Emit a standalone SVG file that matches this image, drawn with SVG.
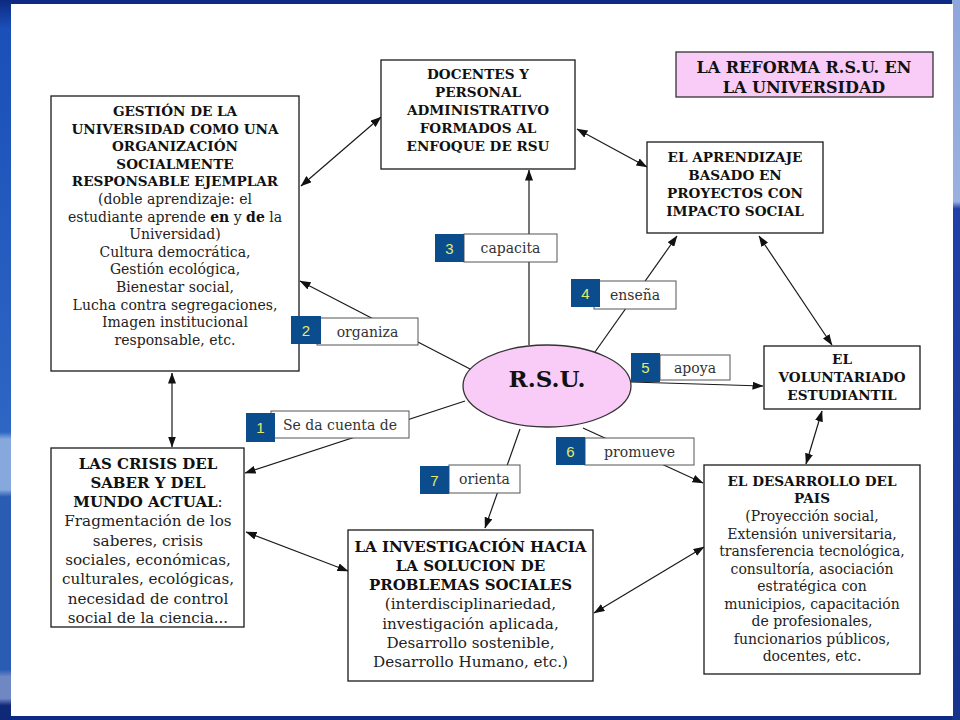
<svg xmlns="http://www.w3.org/2000/svg" width="960" height="720" viewBox="0 0 960 720">
<defs>
<linearGradient id="lg" x1="0" y1="0" x2="0" y2="1">
<stop offset="0" stop-color="#0d2a80"/>
<stop offset="0.04" stop-color="#1a50b8"/>
<stop offset="0.6" stop-color="#2e66c4"/>
<stop offset="0.61" stop-color="#86a8dc"/>
<stop offset="0.68" stop-color="#86a8dc"/>
<stop offset="0.69" stop-color="#2a5cb4"/>
<stop offset="0.93" stop-color="#2a5cb4"/>
<stop offset="0.94" stop-color="#6f88c4"/>
<stop offset="0.97" stop-color="#6f88c4"/>
<stop offset="0.98" stop-color="#102878"/>
</linearGradient>
<linearGradient id="rg" x1="0" y1="0" x2="0" y2="1">
<stop offset="0" stop-color="#8ea6dc"/>
<stop offset="0.28" stop-color="#9ab0e0"/>
<stop offset="0.29" stop-color="#1f40a8"/>
<stop offset="1" stop-color="#16348c"/>
</linearGradient>
<marker id="ah" viewBox="0 0 11 8" refX="10.5" refY="4" markerWidth="11" markerHeight="8" markerUnits="userSpaceOnUse" orient="auto-start-reverse">
<path d="M0,0 L11,4 L0,8 z" fill="#111"/>
</marker>
<style>
.box{fill:#fff;stroke:#1a1a1a;stroke-width:1.3}
.pink{fill:#f9ccf7;stroke:#333;stroke-width:1.3}
.h{font-family:"DejaVu Serif",serif;font-weight:bold;font-size:13.6px;fill:#111;text-anchor:middle}
.t{font-family:"DejaVu Serif",serif;font-size:14px;fill:#222;text-anchor:middle}
.h15{font-family:"DejaVu Serif",serif;font-weight:bold;font-size:15px;fill:#111;text-anchor:middle}
.t15{font-family:"DejaVu Serif",serif;font-size:15.2px;fill:#222;text-anchor:middle}
.c{fill:none;stroke:#1a1a1a;stroke-width:1.2}
.a{marker-end:url(#ah)}
.aa{marker-end:url(#ah);marker-start:url(#ah)}
.lb{fill:#fff;stroke:#555;stroke-width:1}
.nb{fill:#0b4d8c}
.num{font-family:"Liberation Sans",Arial,sans-serif;font-size:15px;fill:#e2ea70;text-anchor:middle}
.lt{font-family:"DejaVu Serif",serif;font-size:14px;fill:#333;text-anchor:middle}
</style>
</defs>
<rect x="0" y="0" width="960" height="720" fill="#0c2a84"/>
<rect x="0" y="0" width="12" height="720" fill="url(#lg)"/>
<rect x="952" y="0" width="8" height="720" fill="url(#rg)"/>
<rect x="11" y="4" width="942" height="712" fill="#fff"/>

<g id="connectors">
<line class="c aa" x1="301" y1="186" x2="381" y2="117"/>
<line class="c aa" x1="577" y1="129" x2="647" y2="167"/>
<line class="c aa" x1="759" y1="236" x2="832" y2="345"/>
<line class="c aa" x1="822" y1="411" x2="806" y2="464"/>
<line class="c aa" x1="172" y1="373" x2="172" y2="447"/>
<line class="c aa" x1="246" y1="532" x2="348" y2="571"/>
<line class="c aa" x1="594" y1="613" x2="704" y2="547"/>
<line class="c a" x1="529" y1="345" x2="529" y2="170"/>
<line class="c a" x1="472" y1="370" x2="300" y2="281"/>
<line class="c a" x1="465" y1="401" x2="245" y2="473"/>
<line class="c a" x1="595" y1="352" x2="677" y2="236"/>
<line class="c a" x1="631" y1="382" x2="763" y2="386"/>
<line class="c a" x1="583" y1="428" x2="703" y2="483"/>
<line class="c a" x1="520" y1="429" x2="485" y2="528"/>
</g>

<g id="title">
<rect class="pink" x="676" y="52" width="257" height="45"/>
<text class="h" style="font-size:16px" x="804" y="72.5">LA REFORMA R.S.U. EN</text>
<text class="h" style="font-size:16px" x="804" y="92.5">LA UNIVERSIDAD</text>
</g>

<g id="gestion">
<rect class="box" x="51" y="96" width="248" height="275"/>
<text class="h" x="175" y="116">GESTIÓN DE LA</text>
<text class="h" x="175" y="133.6">UNIVERSIDAD COMO UNA</text>
<text class="h" x="175" y="151.2">ORGANIZACIÓN</text>
<text class="h" x="175" y="168.8">SOCIALMENTE</text>
<text class="h" x="175" y="186.4">RESPONSABLE EJEMPLAR</text>
<text class="t" x="175" y="204">(doble aprendizaje: el</text>
<text class="t" x="175" y="221.6">estudiante aprende <tspan font-weight="bold" fill="#111">en</tspan> y <tspan font-weight="bold" fill="#111">de</tspan> la</text>
<text class="t" x="175" y="239.2">Universidad)</text>
<text class="t" x="175" y="256.8">Cultura democrática,</text>
<text class="t" x="175" y="274.4">Gestión ecológica,</text>
<text class="t" x="175" y="292">Bienestar social,</text>
<text class="t" x="175" y="309.6">Lucha contra segregaciones,</text>
<text class="t" x="175" y="327.2">Imagen institucional</text>
<text class="t" x="175" y="344.8">responsable, etc.</text>
</g>

<g id="docentes">
<rect class="box" x="381" y="60" width="194" height="109"/>
<text class="h" x="478" y="79">DOCENTES Y</text>
<text class="h" x="478" y="97">PERSONAL</text>
<text class="h" x="478" y="115">ADMINISTRATIVO</text>
<text class="h" x="478" y="133">FORMADOS AL</text>
<text class="h" x="478" y="151">ENFOQUE DE RSU</text>
</g>

<g id="aprendizaje">
<rect class="box" x="647" y="142" width="176" height="91"/>
<text class="h" x="735" y="162">EL APRENDIZAJE</text>
<text class="h" x="735" y="180">BASADO EN</text>
<text class="h" x="735" y="198">PROYECTOS CON</text>
<text class="h" x="735" y="216">IMPACTO SOCIAL</text>
</g>

<g id="voluntariado">
<rect class="box" x="764" y="346" width="156" height="63"/>
<text class="h" x="842" y="364">EL</text>
<text class="h" x="842" y="382">VOLUNTARIADO</text>
<text class="h" x="842" y="400">ESTUDIANTIL</text>
</g>

<g id="crisis">
<rect class="box" x="51" y="448" width="193" height="179"/>
<text class="h15" x="148" y="468.5">LAS CRISIS DEL</text>
<text class="h15" x="148" y="487.8">SABER Y DEL</text>
<text class="h15" x="148" y="507">MUNDO ACTUAL<tspan font-weight="normal" fill="#222">:</tspan></text>
<text class="t15" x="148" y="526.3">Fragmentación de los</text>
<text class="t15" x="148" y="545.6">saberes, crisis</text>
<text class="t15" x="148" y="564.9">sociales, económicas,</text>
<text class="t15" x="148" y="584.2">culturales, ecológicas,</text>
<text class="t15" x="148" y="603.5">necesidad de control</text>
<text class="t15" x="148" y="622.8">social de la ciencia...</text>
</g>

<g id="investigacion">
<rect class="box" x="348" y="530" width="245" height="151"/>
<text class="h15" x="470.5" y="551.5">LA INVESTIGACIÓN HACIA</text>
<text class="h15" x="470.5" y="570.8">LA SOLUCION DE</text>
<text class="h15" x="470.5" y="590">PROBLEMAS SOCIALES</text>
<text class="t15" x="470.5" y="609.3">(interdisciplinariedad,</text>
<text class="t15" x="470.5" y="628.6">investigación aplicada,</text>
<text class="t15" x="470.5" y="647.9">Desarrollo sostenible,</text>
<text class="t15" x="470.5" y="667.2">Desarrollo Humano, etc.)</text>
</g>

<g id="desarrollo">
<rect class="box" x="704" y="465" width="216" height="209"/>
<text class="h" x="812" y="486">EL DESARROLLO DEL</text>
<text class="h" x="812" y="503">PAIS</text>
<text class="t" x="812" y="521">(Proyección social,</text>
<text class="t" x="812" y="538.5">Extensión universitaria,</text>
<text class="t" x="812" y="556">transferencia tecnológica,</text>
<text class="t" x="812" y="573.5">consultoría, asociación</text>
<text class="t" x="812" y="591">estratégica con</text>
<text class="t" x="812" y="608.5">municipios, capacitación</text>
<text class="t" x="812" y="626">de profesionales,</text>
<text class="t" x="812" y="643.5">funcionarios públicos,</text>
<text class="t" x="812" y="661">docentes, etc.</text>
</g>

<g id="rsu">
<ellipse class="pink" cx="547" cy="386" rx="84" ry="41"/>
<text class="h" style="font-size:23px" x="547" y="387">R.S.U.</text>
</g>

<g id="label1">
<rect class="lb" x="271" y="411" width="138" height="27"/>
<rect class="nb" x="246" y="413" width="29" height="29"/>
<text class="num" x="260.5" y="433">1</text>
<text class="lt" x="340" y="429.5">Se da cuenta de</text>
</g>
<g id="label2">
<rect class="lb" x="317" y="318" width="101" height="27"/>
<rect class="nb" x="291" y="316" width="30" height="28"/>
<text class="num" x="306" y="335.5">2</text>
<text class="lt" x="367.5" y="336.5">organiza</text>
</g>
<g id="label3">
<rect class="lb" x="464" y="234" width="93" height="28"/>
<rect class="nb" x="435" y="234" width="29" height="28"/>
<text class="num" x="449.5" y="253.5">3</text>
<text class="lt" x="510.5" y="253">capacita</text>
</g>
<g id="label4">
<rect class="lb" x="594" y="281" width="82" height="28"/>
<rect class="nb" x="571" y="279" width="29" height="28"/>
<text class="num" x="585.5" y="298.5">4</text>
<text class="lt" x="635" y="300">enseña</text>
</g>
<g id="label5">
<rect class="lb" x="660" y="355" width="70" height="25"/>
<rect class="nb" x="631" y="353" width="29" height="29"/>
<text class="num" x="645.5" y="373">5</text>
<text class="lt" x="695" y="372.5">apoya</text>
</g>
<g id="label6">
<rect class="lb" x="585" y="438" width="109" height="27"/>
<rect class="nb" x="556" y="437" width="29" height="28"/>
<text class="num" x="570.5" y="456.5">6</text>
<text class="lt" x="639.5" y="456.5">promueve</text>
</g>
<g id="label7">
<rect class="lb" x="449" y="465" width="71" height="28"/>
<rect class="nb" x="420" y="466" width="29" height="28"/>
<text class="num" x="434.5" y="485.5">7</text>
<text class="lt" x="484.5" y="484">orienta</text>
</g>
</svg>
